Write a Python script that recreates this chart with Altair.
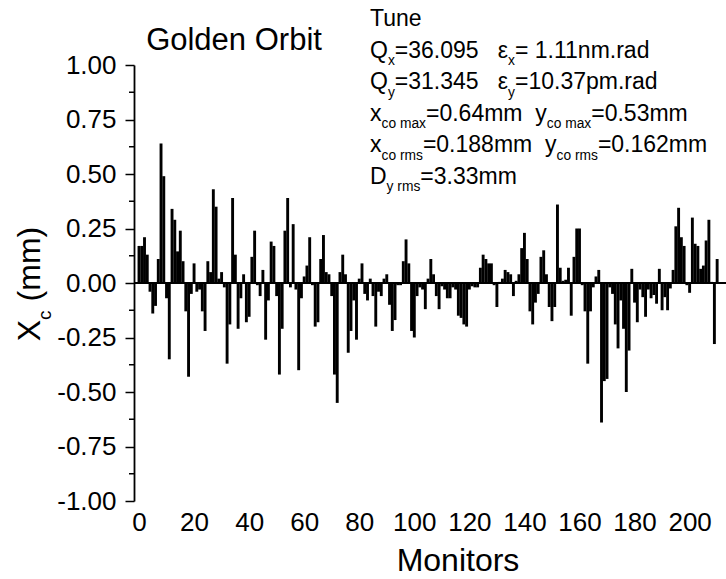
import altair as alt
import pandas as pd

# ---------------- data ----------------
values = [
    0.17, 0.17, 0.21, 0.13, -0.04, -0.14, -0.105, 0.11, 0.64, 0.49,
    -0.07, -0.35, 0.34, 0.29, 0.145, 0.24, 0.10, -0.13, -0.43, -0.05,
    0.09, -0.04, -0.03, -0.13, -0.22, 0.10, 0.05, 0.43, 0.35, 0.02,
    0.05, -0.02, -0.37, -0.19, 0.39, 0.13, -0.21, -0.07, 0.04, -0.18,
    -0.155, 0.12, 0.24, -0.01, -0.06, 0.06, -0.26, -0.08, 0.19, 0.17,
    -0.06, -0.42, -0.21, 0.24, 0.39, -0.02, 0.27, -0.03, -0.40, -0.07,
    0.03, 0.08, 0.21, -0.01, -0.20, -0.18, 0.11, 0.22, 0.05, 0.04,
    -0.06, -0.42, -0.55, 0.05, 0.13, 0.04, -0.32, -0.22, -0.08, -0.26,
    0.02, 0.09, -0.05, -0.08, 0.02, -0.06, -0.20, -0.04, -0.06, 0.02,
    0.04, -0.10, -0.22, -0.17, -0.01, -0.01, 0.10, 0.20, 0.09, -0.22,
    -0.25, -0.06, -0.02, -0.03, -0.12, 0.02, 0.11, 0.04, -0.06, -0.12,
    -0.015, -0.03, -0.07, -0.07, -0.02, -0.03, -0.15, -0.16, -0.19, -0.20,
    -0.03, -0.015, -0.02, -0.02, 0.07, 0.13, 0.11, 0.09, 0.09, -0.01,
    -0.11, 0.005, 0.02, 0.06, 0.05, 0.04, -0.06, 0.01, 0.04, 0.16,
    0.23, 0.11, -0.13, -0.19, -0.09, -0.05, 0.12, 0.15, 0.04, -0.11,
    -0.175, -0.11, 0.36, 0.07, 0.01, 0.015, 0.07, -0.15, 0.12, 0.25,
    0.25, -0.01, -0.13, -0.37, -0.13, -0.02, 0.03, 0.06, -0.64, -0.45,
    -0.44, -0.02, -0.05, -0.19, -0.30, -0.08, -0.21, -0.50, -0.31, 0.065,
    -0.09, -0.18, -0.03, -0.065, -0.155, -0.03, -0.07, -0.055, -0.095, 0.065,
    -0.125, -0.065, -0.125, -0.025, 0.06, 0.26, 0.345, 0.21, 0.17, -0.01,
    -0.045, 0.30, 0.18, 0.17, 0.065, 0.08, 0.195, 0.29, 0.005, -0.28,
    0.11,
]
monitors = list(range(len(values)))

x_ticks = [0, 20, 40, 60, 80, 100, 120, 140, 160, 180, 200]
y_major = [-1.0, -0.75, -0.5, -0.25, 0.0, 0.25, 0.5, 0.75, 1.0]
y_minor = [-0.875, -0.625, -0.375, -0.125, 0.125, 0.375, 0.625, 0.875]

title_text = "Golden Orbit"
x_title = "Monitors"
y_title = [("X", "n"), ("c", "s"), (" (mm)", "n")]
info_lines = [
    [("Tune", "n")],
    [("Q", "n"), ("x", "s"), ("=36.095   ", "n"), ("ε", "n"), ("x", "s"), ("= 1.11nm.rad", "n")],
    [("Q", "n"), ("y", "s"), ("=31.345   ", "n"), ("ε", "n"), ("y", "s"), ("=10.37pm.rad", "n")],
    [("x", "n"), ("co max", "s"), ("=0.64mm  ", "n"), ("y", "n"), ("co max", "s"), ("=0.53mm", "n")],
    [("x", "n"), ("co rms", "s"), ("=0.188mm  ", "n"), ("y", "n"), ("co rms", "s"), ("=0.162mm", "n")],
    [("D", "n"), ("y rms", "s"), ("=3.33mm", "n")],
]

# ---------------- layout ----------------
FONT = "Liberation Sans"
X0, Y0 = 134, 65          # plot origin on the page
PW, PH = 592, 436         # plot area
X_MAX = 211.4

# Arial / Liberation Sans advance widths (1/1000 em)
AW = {" ": 278, "=": 584, ".": 278, "Q": 778, "x": 500, "y": 500, "c": 500,
      "o": 556, "m": 833, "a": 556, "r": 333, "s": 500, "D": 722, "n": 556,
      "p": 556, "d": 556, "T": 611, "u": 556, "e": 556, "ε": 450, "X": 667,
      "(": 333, ")": 333, "G": 778, "l": 222, "O": 778, "b": 556, "i": 222,
      "t": 278, "M": 833}


def tw(s, fs):
    return sum(AW.get(ch, 556) for ch in s) / 1000.0 * fs


rows = []


def add(x, y, s, fs, ang=0):
    rows.append(dict(px=x - X0, py=y - Y0, txt=s, fs=fs, ang=ang))


def line(x, y, segs, fs, sub=0.6, drop=0.33):
    for s, kind in segs:
        f = fs if kind == "n" else fs * sub
        yy = y if kind == "n" else y + fs * drop
        lead = len(s) - len(s.lstrip())
        x += tw(" " * lead, f)
        core = s.strip()
        add(x, yy, core, f)
        x += tw(s.lstrip(), f)


INFO_FS = 23
for k, segs in enumerate(info_lines):
    line(370, 26 + 31.5 * k, segs, INFO_FS)

# title
TFS = 31
add(234 - tw(title_text, TFS) / 2, 50, title_text, TFS)
# x title
XFS = 32
add(458 - tw(x_title, XFS) / 2, 571, x_title, XFS)
# y title (rotated, reading upward)
YFS = 32
tot = tw("X", YFS) + tw("c", YFS * 0.6) + tw(" (mm)", YFS)
yy = 284 + tot / 2
for s, kind in y_title:
    f = YFS if kind == "n" else YFS * 0.6
    xx = 40 if kind == "n" else 40 + YFS * 0.33
    lead = len(s) - len(s.lstrip())
    yy -= tw(" " * lead, f)
    add(xx, yy, s.strip(), f, 270)
    yy -= tw(s.lstrip(), f)

text_df = pd.DataFrame(rows)

# ---------------- chart ----------------
xs = alt.Scale(domain=[0, X_MAX], nice=False, zero=False)
ys = alt.Scale(domain=[-1, 1], nice=False)

bar_df = pd.DataFrame({"m": monitors, "v": values})

bars = alt.Chart(bar_df).mark_bar(color="black", size=2.9, clip=True, orient="vertical").encode(
    x=alt.X("m:Q", scale=xs, title=None,
            axis=alt.Axis(values=x_ticks, domain=False, ticks=False, grid=False,
                          labelFontSize=26, labelFont=FONT, labelColor="black",
                          labelPadding=8, labelFlush=False, labelOverlap=False)),
    y=alt.Y("v:Q", scale=ys, title=None,
            axis=alt.Axis(values=y_major, grid=False, tickSize=9, tickWidth=1.5,
                          tickColor="black", domainColor="black", domainWidth=1.8,
                          labelFontSize=26, labelFont=FONT, labelColor="black",
                          labelPadding=9,
                          labelExpr="replace(format(datum.value, '.2f'), '−', '-')")),
    y2=alt.datum(0),
)

zero = alt.Chart(pd.DataFrame({"z": [0.0]})).mark_rule(color="black", strokeWidth=2).encode(
    y=alt.Y("z:Q", scale=ys)
)

minor = alt.Chart(pd.DataFrame({"t": y_minor})).mark_rule(color="black", strokeWidth=1.5).encode(
    y=alt.Y("t:Q", scale=ys),
    x=alt.value(-5),
    x2=alt.value(0),
)

texts = alt.Chart(text_df).mark_text(align="left", baseline="alphabetic", font=FONT,
                                     color="black").encode(
    x=alt.X("px:Q", scale=None),
    y=alt.Y("py:Q", scale=None),
    text="txt:N",
    size=alt.Size("fs:Q", scale=None),
    angle=alt.Angle("ang:Q", scale=None),
)

chart = alt.layer(bars, zero, minor, texts).properties(
    width=PW,
    height=PH,
    padding={"left": X0, "top": Y0, "right": 0, "bottom": 579 - Y0 - PH},
    autosize=alt.AutoSizeParams(type="none"),
    background="white",
).configure_view(strokeWidth=0)

chart.save("out.html", embed_options={"renderer": "svg", "actions": False})
